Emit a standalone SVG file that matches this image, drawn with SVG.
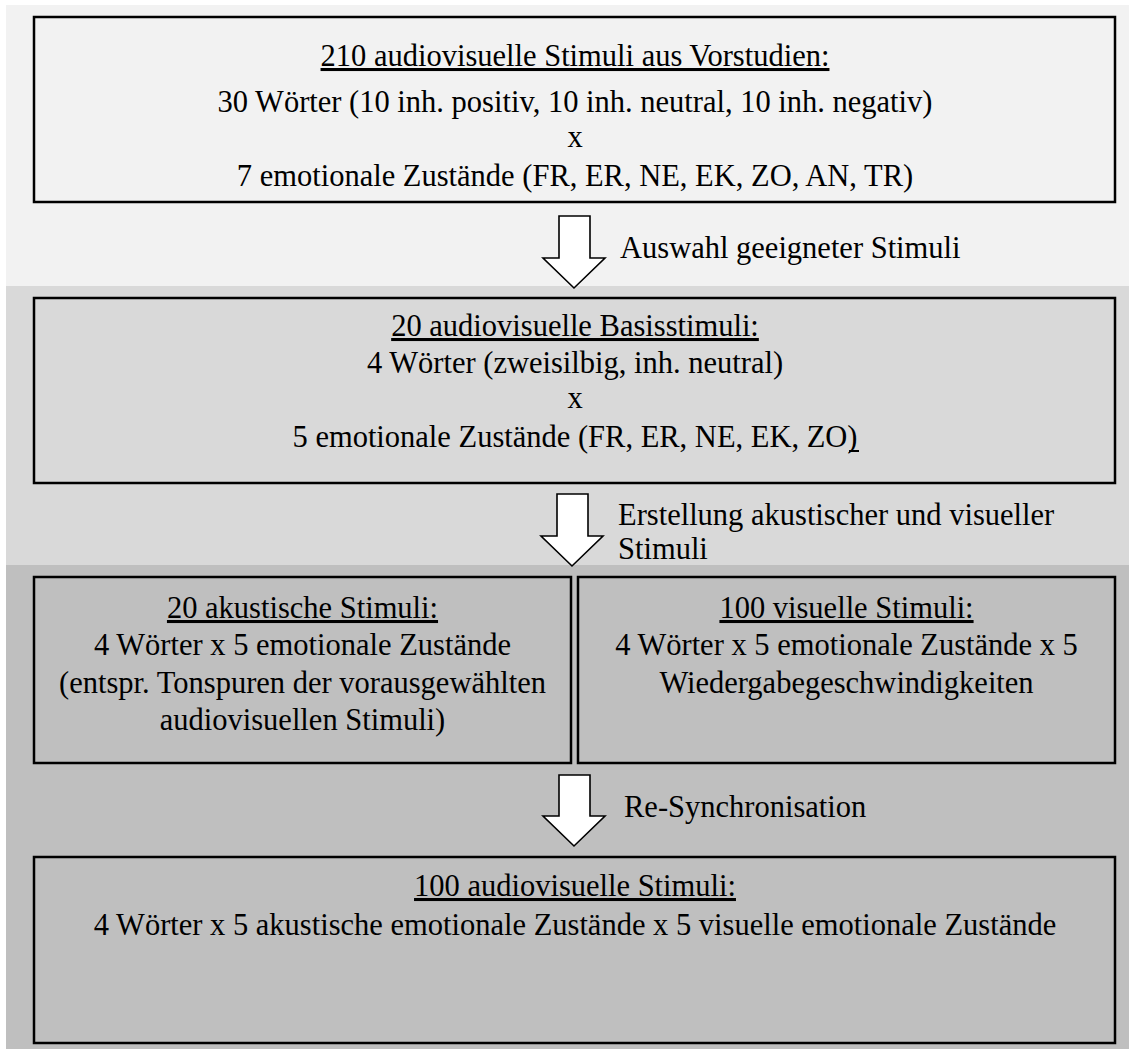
<svg xmlns="http://www.w3.org/2000/svg" width="1129" height="1050" viewBox="0 0 1129 1050">
<style>
.box{stroke:#000;stroke-width:2.5;fill:none}
.arrow{fill:#fff;stroke:#000;stroke-width:1.6;stroke-linejoin:miter}
text{font-family:"Liberation Serif","Times New Roman",serif;font-size:30.5px;fill:#000}
.c{text-anchor:middle}
.u{text-decoration:underline}
</style>
<rect x="0" y="0" width="1129" height="1050" fill="#fff"/>
<rect x="6" y="5" width="1123" height="281" fill="#f2f2f2"/>
<rect x="6" y="286" width="1123" height="279" fill="#d9d9d9"/>
<rect x="6" y="565" width="1123" height="484" fill="#bfbfbf"/>

<g id="node1">
<rect class="box" x="34" y="17" width="1081" height="185"/>
<text class="c u" x="575" y="66">210 audiovisuelle Stimuli aus Vorstudien:</text>
<text class="c" x="575" y="112">30 Wörter (10 inh. positiv, 10 inh. neutral, 10 inh. negativ)</text>
<text class="c" x="575" y="147">x</text>
<text class="c" x="575" y="186">7 emotionale Zustände (FR, ER, NE, EK, ZO, AN, TR)</text>
</g>

<g id="node2">
<rect class="box" x="34" y="298" width="1081" height="185"/>
<text class="c u" x="575" y="336">20 audiovisuelle Basisstimuli:</text>
<text class="c" x="575" y="373">4 Wörter (zweisilbig, inh. neutral)</text>
<text class="c" x="575" y="408">x</text>
<text class="c" x="575" y="447">5 emotionale Zustände (FR, ER, NE, EK, ZO)</text>
<line x1="849" y1="451" x2="859" y2="451" stroke="#000" stroke-width="2"/>
</g>

<g id="node3">
<rect class="box" x="34" y="577" width="537" height="186"/>
<text class="c u" x="302.5" y="618">20 akustische Stimuli:</text>
<text class="c" x="302.5" y="655">4 Wörter x 5 emotionale Zustände</text>
<text class="c" x="302.5" y="693">(entspr. Tonspuren der vorausgewählten</text>
<text class="c" x="302.5" y="730">audiovisuellen Stimuli)</text>
</g>

<g id="node4">
<rect class="box" x="578" y="577" width="537" height="186"/>
<text class="c u" x="846.5" y="618">100 visuelle Stimuli:</text>
<text class="c" x="846.5" y="655">4 Wörter x 5 emotionale Zustände x 5</text>
<text class="c" x="846.5" y="693">Wiedergabegeschwindigkeiten</text>
</g>

<g id="node5">
<rect class="box" x="34" y="857" width="1081" height="186"/>
<text class="c u" x="575" y="896">100 audiovisuelle Stimuli:</text>
<text class="c" x="575" y="935">4 Wörter x 5 akustische emotionale Zustände x 5 visuelle emotionale Zustände</text>
</g>

<g id="connectors">
<polygon class="arrow" points="559,216 590,216 590,258 605,258 574,288 543,258 559,258"/>
<text x="620" y="258">Auswahl geeigneter Stimuli</text>
<polygon class="arrow" points="557,494 588,494 588,536 603,536 572,566 541,536 557,536"/>
<text x="618" y="525">Erstellung akustischer und visueller</text>
<text x="618" y="559">Stimuli</text>
<polygon class="arrow" points="559,775 590,775 590,816 605,816 574,846 543,816 559,816"/>
<text x="624" y="817">Re-Synchronisation</text>
</g>
</svg>
